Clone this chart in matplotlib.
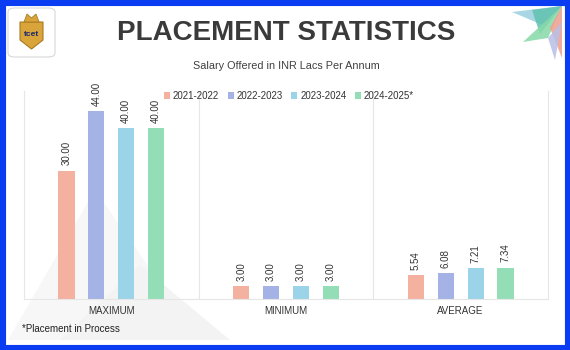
import numpy as np
import matplotlib
matplotlib.use("Agg")
import matplotlib.pyplot as plt
from matplotlib.patches import Polygon, FancyBboxPatch, Rectangle

plt.rcParams['font.family'] = ['Liberation Sans', 'DejaVu Sans']

# dados
categorias = ['MAXIMUM', 'MINIMUM', 'AVERAGE']
anos = ['2021-2022', '2022-2023', '2023-2024', '2024-2025*']
v_2122 = [30.00, 3.00, 5.54]
v_2223 = [44.00, 3.00, 6.08]
v_2324 = [40.00, 3.00, 7.21]
v_2425 = [40.00, 3.00, 7.34]
series = [v_2122, v_2223, v_2324, v_2425]
cores = ['#F4B1A0', '#A4B2E6', '#9BD4E8', '#93DEB7']

fig = plt.figure(figsize=(5.7, 3.5), dpi=100)
fig.patch.set_facecolor('white')

def px(x, y):
    # pixel (origem no topo) -> coordenada da figura
    return [x / 570, 1 - y / 350]

# borda azul
fig.patches.append(Rectangle((0, 0), 1, 1, transform=fig.transFigure, fill=False,
                             edgecolor='#0A3CF2', linewidth=8, zorder=10))

# marca d'agua cinza bem fraca no canto inferior esquerdo
fig.patches.append(Polygon([px(8, 340), px(95, 190), px(200, 340)], closed=True,
                           transform=fig.transFigure, facecolor='#f7f7f7',
                           edgecolor='none', zorder=-2))
fig.patches.append(Polygon([px(60, 340), px(140, 265), px(230, 340)], closed=True,
                           transform=fig.transFigure, facecolor='#f3f3f3',
                           edgecolor='none', zorder=-1))

# enfeite no canto superior direito
def tri(pts, cor):
    fig.patches.append(Polygon([px(x, y) for x, y in pts], closed=True,
                               transform=fig.transFigure, facecolor=cor,
                               edgecolor='none', alpha=0.85, zorder=1))
tri([(512, 12), (562, 6), (545, 26)], '#9ACFE0')
tri([(532, 10), (562, 6), (540, 34)], '#5FC3B0')
tri([(523, 42), (562, 6), (548, 38)], '#86D9A8')
tri([(550, 28), (562, 6), (562, 58)], '#EE9E8E')
tri([(548, 38), (562, 22), (555, 60)], '#B8BFE6')

# logo simples
fig.patches.append(FancyBboxPatch((8 / 570, 1 - 57 / 350), 47 / 570, 49 / 350,
                                  boxstyle='round,pad=0,rounding_size=0.012',
                                  transform=fig.transFigure, facecolor='white',
                                  edgecolor='#d8d8d8', linewidth=0.8, zorder=2))
fig.patches.append(Polygon([px(20, 22), px(43, 22), px(43, 40), px(31.5, 49), px(20, 40)],
                           closed=True, transform=fig.transFigure, facecolor='#D9A53A',
                           edgecolor='#A87B20', linewidth=0.8, zorder=3))
fig.patches.append(Polygon([px(24, 22), px(27, 14), px(31.5, 18), px(36, 14), px(39, 22)],
                           closed=True, transform=fig.transFigure, facecolor='#D9A53A',
                           edgecolor='#A87B20', linewidth=0.6, zorder=3))
fig.text(31.5 / 570, 1 - 34 / 350, 'tcet', ha='center', va='center', fontsize=6,
         fontweight='bold', color='#1b2a6b', zorder=4)

# titulos
fig.text(286 / 570, 1 - 33 / 350, 'PLACEMENT STATISTICS', ha='center', va='center',
         fontsize=20, fontweight='bold', color='#3a3a3a')
fig.text(286 / 570, 1 - 66 / 350, 'Salary Offered in INR Lacs Per Annum', ha='center',
         va='center', fontsize=7.8, color='#404040')
fig.text(22 / 570, 1 - 329 / 350, '*Placement in Process', ha='left', va='center',
         fontsize=7, color='#222222')

# grafico
ax = fig.add_axes([24 / 570, 51 / 350, 524 / 570, 208 / 350])
ax.set_facecolor('none')
x = np.arange(len(categorias))
desloc = [-1.5, -0.5, 0.5, 1.5]
passo = 0.171
largura = 0.092
for serie, cor, d, ano in zip(series, cores, desloc, anos):
    barras = ax.bar(x + d * passo, serie, width=largura, color=cor, label=ano, zorder=2)
    for b, v in zip(barras, serie):
        ax.text(b.get_x() + b.get_width() / 2, v + 1.2, f'{v:.2f}', rotation=90,
                ha='center', va='bottom', fontsize=7, color='#333333')

ax.set_xlim(-0.5, 2.5)
ax.set_ylim(0, 48.6)
ax.set_yticks([])
ax.set_xticks(x)
ax.set_xticklabels(categorias, fontsize=7, color='#333333')
ax.tick_params(axis='x', length=0, pad=5)
for xs in [0.5, 1.5]:
    ax.axvline(xs, color='#e6e6e6', linewidth=0.8, zorder=1)
ax.spines['top'].set_visible(False)
for s in ['left', 'right', 'bottom']:
    ax.spines[s].set_color('#e6e6e6')
    ax.spines[s].set_linewidth(0.8)

fig.legend(loc='center', bbox_to_anchor=(289 / 570, 1 - 96 / 350), ncol=4, frameon=False,
           fontsize=7, handlelength=0.6, handleheight=0.6, handletextpad=0.3,
           columnspacing=0.9, labelcolor='#333333')

fig.savefig('out.png', dpi=100, facecolor='white')
